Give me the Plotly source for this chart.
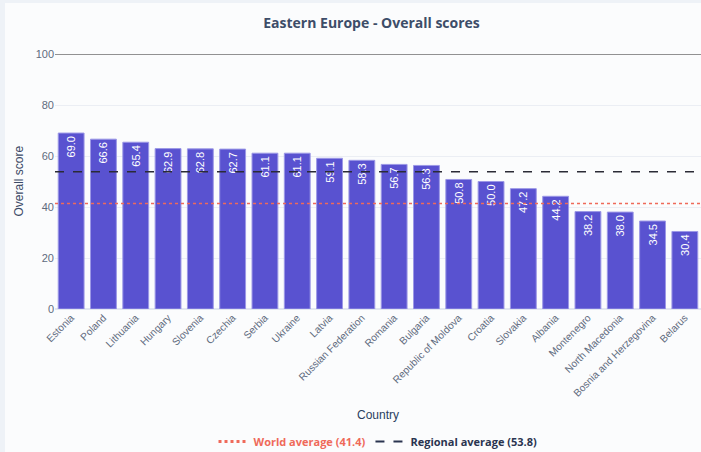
import plotly.graph_objects as go

countries = ["Estonia", "Poland", "Lithuania", "Hungary", "Slovenia", "Czechia", "Serbia",
             "Ukraine", "Latvia", "Russian Federation", "Romania", "Bulgaria",
             "Republic of Moldova", "Croatia", "Slovakia", "Albania", "Montenegro",
             "North Macedonia", "Bosnia and Herzegovina", "Belarus"]
scores = [69.0, 66.6, 65.4, 62.9, 62.8, 62.7, 61.1, 61.1, 59.1, 58.3, 56.7, 56.3,
          50.8, 50.0, 47.2, 44.2, 38.2, 38.0, 34.5, 30.4]
world_avg = 41.4
regional_avg = 53.8
y_ticks = [0, 20, 40, 60, 80, 100]

fig = go.Figure()
fig.add_trace(go.Bar(
    x=countries, y=scores,
    text=[f"{v:.1f}" for v in scores],
    textposition="inside", insidetextanchor="end", textangle=-90,
    textfont=dict(color="white", size=11),
    marker=dict(color="#5952D0", line=dict(color="#9C98E6", width=1)),
    showlegend=False,
))
fig.add_trace(go.Scatter(
    x=[None], y=[None], mode="lines",
    line=dict(color="#EF6A5A", dash="dot", width=3),
    name="<span style='color:#EF6A5A'><b>World average (41.4)</b></span>",
))
fig.add_trace(go.Scatter(
    x=[None], y=[None], mode="lines",
    line=dict(color="#2A3450", dash="dash", width=2),
    name="<span style='color:#2A3450'><b>Regional average (53.8)</b></span>",
))

# background frame
fig.add_shape(type="rect", xref="paper", yref="paper", x0=-50/646, x1=1.05,
              y0=-0.6, y1=(309-3)/255, fillcolor="#FBFCFD", line=dict(width=0), layer="below")
fig.add_shape(type="line", xref="paper", x0=0, x1=1, y0=100, y1=100,
              line=dict(color="#6E6E6E", width=1.5))
fig.add_shape(type="line", xref="paper", x0=0, x1=1, y0=regional_avg, y1=regional_avg,
              line=dict(color="#2B2B36", width=1.5, dash="dash"))
fig.add_shape(type="line", xref="paper", x0=0, x1=1, y0=world_avg, y1=world_avg,
              line=dict(color="#EF6A5A", width=1.5, dash="dot"))

# axis titles
fig.add_annotation(text="Country", xref="paper", yref="paper", x=0.5, y=(309-415)/255,
                   xanchor="center", yanchor="middle", showarrow=False,
                   font=dict(size=12, color="#2A3F5F"))
fig.add_annotation(text="Overall score", xref="paper", yref="paper", x=(18-55)/646, y=0.5,
                   xanchor="center", yanchor="middle", showarrow=False, textangle=-90,
                   font=dict(size=12, color="#3B4A66"))

fig.update_layout(
    width=701, height=452,
    margin=dict(l=55, r=0, t=54, b=143, autoexpand=False),
    paper_bgcolor="#EEF2F7", plot_bgcolor="#FBFCFD",
    font=dict(family="Arial, Liberation Sans, sans-serif", color="#5F6B7D", size=11),
    title=dict(text="<b>Eastern Europe - Overall scores</b>", x=0.49, xref="paper",
               xanchor="center", y=0.948, yanchor="middle",
               font=dict(size=14, color="#3D4D68", family="Open Sans, Arial, sans-serif")),
    bargap=0.2,
    xaxis=dict(tickangle=-45, tickfont=dict(size=10.2), showgrid=False, automargin=False),
    yaxis=dict(range=[0, 100], tickvals=y_ticks, gridcolor="#EBEEF4",
               zeroline=True, zerolinecolor="#E2E7F0", zerolinewidth=2,
               tickfont=dict(size=11), automargin=False),
    legend=dict(orientation="h", x=0.5, xanchor="center", y=-0.52, yanchor="middle",
                bgcolor="rgba(0,0,0,0)", font=dict(size=11, family="Open Sans, Arial, sans-serif")),
)

fig.write_html("out.html", config={"displayModeBar": False},
               post_script="document.body.style.margin='0';document.body.style.overflow='hidden';")
